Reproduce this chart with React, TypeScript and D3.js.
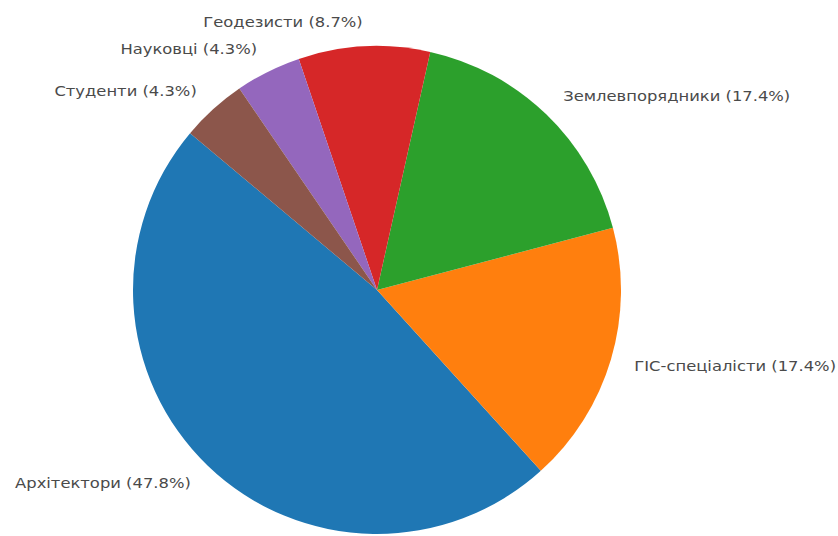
import * as d3 from "d3";
import { useEffect, useRef } from "react";

const categories = ["Архітектори", "ГІС-спеціалісти", "Землевпорядники", "Геодезисти", "Науковці", "Студенти"];
const counts = [11, 4, 4, 2, 1, 1];
const colors = ["#1f77b4", "#ff7f0e", "#2ca02c", "#d62728", "#9467bd", "#8c564b"];

const width = 838;
const height = 536;

export default function App() {
    const ref = useRef<SVGSVGElement | null>(null);

    useEffect(() => {
        if (!ref.current) return;
        const svg = d3.select(ref.current);
        svg.selectAll("*").remove();

        const cx = 377;
        const cy = 290;
        const r = 244;
        const total = d3.sum(counts);

        // matplotlib-style: startangle 140°, counterclockwise
        const start = (90 - 140) * Math.PI / 180;
        const pie = d3.pie<number>()
            .sort(null)
            .startAngle(start)
            .endAngle(start - 2 * Math.PI);

        const arcs = pie(counts);
        const arc = d3.arc<d3.PieArcDatum<number>>().innerRadius(0).outerRadius(r);

        const g = svg.append("g").attr("transform", `translate(${cx},${cy})`);

        g.selectAll("path.slice")
            .data(arcs)
            .join("path")
            .attr("class", "slice")
            .attr("d", arc)
            .attr("fill", (_, i) => colors[i]);

        // labels at 1.1 r, text looks horizontally stretched in the reference
        g.selectAll("text.label")
            .data(arcs)
            .join("text")
            .attr("class", "label")
            .each(function (d, i) {
                const mid = (d.startAngle + d.endAngle) / 2;
                const x = Math.sin(mid) * r * 1.1;
                const y = -Math.cos(mid) * r * 1.1;
                d3.select(this)
                    .attr("transform", `translate(${x},${y}) scale(1.17,1)`)
                    .attr("text-anchor", x >= 0 ? "start" : "end")
                    .attr("dominant-baseline", "central")
                    .text(`${categories[i]} (${(counts[i] / total * 100).toFixed(1)}%)`);
            })
            .attr("font-family", "DejaVu Sans")
            .attr("font-size", 14)
            .attr("fill", "#4a4a4a");
    }, []);

    return (
        <svg
            ref={ref}
            width={width}
            height={height}
            style={{ position: "absolute", left: 0, top: 0, background: "#fff" }}
        />
    );
}
